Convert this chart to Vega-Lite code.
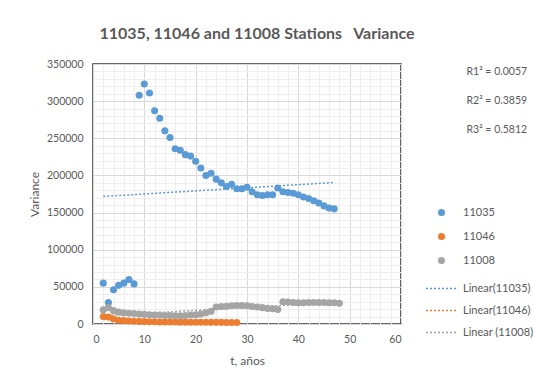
{
  "$schema": "https://vega.github.io/schema/vega-lite/v6.json",
  "width": 308,
  "height": 260,
  "autosize": {"type": "none"},
  "padding": {"left": 93, "top": 64, "right": 133, "bottom": 59},
  "background": "white",
  "title": {"text": "11035, 11046 and 11008 Stations \u00a0 Variance", "fontSize": 16, "fontWeight": "bold", "color": "#595959", "font": "Lato", "anchor": "middle", "dx": 10, "offset": 17},
  "datasets": {
    "meta": [
      {"s": "11035", "trend": "Linear(11035)", "r2": "R1² = 0.0057"},
      {"s": "11046", "trend": "Linear(11046)", "r2": "R2² = 0.3859"},
      {"s": "11008", "trend": "Linear (11008)", "r2": "R3² = 0.5812"}
    ],
    "obs": [
      {"s":"11035","t":2,"v":55000},{"s":"11035","t":3,"v":29000},{"s":"11035","t":4,"v":46000},{"s":"11035","t":5,"v":52000},{"s":"11035","t":6,"v":55000},{"s":"11035","t":7,"v":60000},{"s":"11035","t":8,"v":54000},{"s":"11035","t":9,"v":308000},{"s":"11035","t":10,"v":323000},{"s":"11035","t":11,"v":311000},{"s":"11035","t":12,"v":287000},{"s":"11035","t":13,"v":277000},{"s":"11035","t":14,"v":260000},{"s":"11035","t":15,"v":251000},{"s":"11035","t":16,"v":236000},{"s":"11035","t":17,"v":234000},{"s":"11035","t":18,"v":228000},{"s":"11035","t":19,"v":226000},{"s":"11035","t":20,"v":219000},{"s":"11035","t":21,"v":210000},{"s":"11035","t":22,"v":200000},{"s":"11035","t":23,"v":203000},{"s":"11035","t":24,"v":195000},{"s":"11035","t":25,"v":190000},{"s":"11035","t":26,"v":185000},{"s":"11035","t":27,"v":188000},{"s":"11035","t":28,"v":182000},{"s":"11035","t":29,"v":182000},{"s":"11035","t":30,"v":184000},{"s":"11035","t":31,"v":178000},{"s":"11035","t":32,"v":174000},{"s":"11035","t":33,"v":173000},{"s":"11035","t":34,"v":174000},{"s":"11035","t":35,"v":174000},{"s":"11035","t":36,"v":183000},{"s":"11035","t":37,"v":178000},{"s":"11035","t":38,"v":177000},{"s":"11035","t":39,"v":176000},{"s":"11035","t":40,"v":174000},{"s":"11035","t":41,"v":171000},{"s":"11035","t":42,"v":169000},{"s":"11035","t":43,"v":166000},{"s":"11035","t":44,"v":163000},{"s":"11035","t":45,"v":159000},{"s":"11035","t":46,"v":156000},{"s":"11035","t":47,"v":155000},
      {"s":"11046","t":2,"v":10000},{"s":"11046","t":3,"v":9500},{"s":"11046","t":4,"v":6700},{"s":"11046","t":5,"v":5000},{"s":"11046","t":6,"v":4500},{"s":"11046","t":7,"v":4000},{"s":"11046","t":8,"v":3800},{"s":"11046","t":9,"v":3500},{"s":"11046","t":10,"v":3200},{"s":"11046","t":11,"v":3000},{"s":"11046","t":12,"v":3000},{"s":"11046","t":13,"v":2800},{"s":"11046","t":14,"v":2700},{"s":"11046","t":15,"v":2700},{"s":"11046","t":16,"v":2600},{"s":"11046","t":17,"v":2500},{"s":"11046","t":18,"v":2500},{"s":"11046","t":19,"v":2400},{"s":"11046","t":20,"v":2400},{"s":"11046","t":21,"v":2300},{"s":"11046","t":22,"v":2300},{"s":"11046","t":23,"v":2200},{"s":"11046","t":24,"v":2200},{"s":"11046","t":25,"v":2200},{"s":"11046","t":26,"v":2100},{"s":"11046","t":27,"v":2100},{"s":"11046","t":28,"v":2000},
      {"s":"11008","t":2,"v":19000},{"s":"11008","t":3,"v":22000},{"s":"11008","t":4,"v":18000},{"s":"11008","t":5,"v":16000},{"s":"11008","t":6,"v":15000},{"s":"11008","t":7,"v":14500},{"s":"11008","t":8,"v":14000},{"s":"11008","t":9,"v":13500},{"s":"11008","t":10,"v":13000},{"s":"11008","t":11,"v":12500},{"s":"11008","t":12,"v":12000},{"s":"11008","t":13,"v":12000},{"s":"11008","t":14,"v":11500},{"s":"11008","t":15,"v":11500},{"s":"11008","t":16,"v":11000},{"s":"11008","t":17,"v":11000},{"s":"11008","t":18,"v":11500},{"s":"11008","t":19,"v":12000},{"s":"11008","t":20,"v":12500},{"s":"11008","t":21,"v":13500},{"s":"11008","t":22,"v":15000},{"s":"11008","t":23,"v":17000},{"s":"11008","t":24,"v":23000},{"s":"11008","t":25,"v":23500},{"s":"11008","t":26,"v":24000},{"s":"11008","t":27,"v":24500},{"s":"11008","t":28,"v":25000},{"s":"11008","t":29,"v":25000},{"s":"11008","t":30,"v":24500},{"s":"11008","t":31,"v":23500},{"s":"11008","t":32,"v":23000},{"s":"11008","t":33,"v":22000},{"s":"11008","t":34,"v":21000},{"s":"11008","t":35,"v":20500},{"s":"11008","t":36,"v":19500},{"s":"11008","t":37,"v":30000},{"s":"11008","t":38,"v":29500},{"s":"11008","t":39,"v":29000},{"s":"11008","t":40,"v":28500},{"s":"11008","t":41,"v":28500},{"s":"11008","t":42,"v":29000},{"s":"11008","t":43,"v":29000},{"s":"11008","t":44,"v":29000},{"s":"11008","t":45,"v":29000},{"s":"11008","t":46,"v":28500},{"s":"11008","t":47,"v":28500},{"s":"11008","t":48,"v":28000}
    ]
  },
  "data": {"name": "obs"},
  "transform": [
    {"lookup": "s", "from": {"data": {"name": "meta"}, "key": "s", "fields": ["trend", "r2"]}}
  ],
  "encoding": {
    "x": {
      "field": "t", "type": "quantitative",
      "scale": {"domain": [0, 60], "nice": false},
      "axis": {
        "title": "t, años",
        "values": [0,2,4,6,8,10,12,14,16,18,20,22,24,26,28,30,32,34,36,38,40,42,44,46,48,50,52,54,56,58,60],
        "labelExpr": "datum.value % 10 === 0 ? datum.label : ''",
        "gridColor": {"condition": {"test": "datum.value % 10 === 0", "value": "#D9D9D9"}, "value": "#EEEEEE"},
        "ticks": false, "domain": false, "labelPadding": 10, "titlePadding": 11
      }
    },
    "y": {
      "field": "v", "type": "quantitative",
      "scale": {"domain": [0, 350000], "nice": false},
      "axis": {
        "title": "Variance",
        "values": [0,10000,20000,30000,40000,50000,60000,70000,80000,90000,100000,110000,120000,130000,140000,150000,160000,170000,180000,190000,200000,210000,220000,230000,240000,250000,260000,270000,280000,290000,300000,310000,320000,330000,340000,350000],
        "format": "d",
        "labelExpr": "datum.value % 50000 === 0 ? datum.label : ''",
        "gridColor": {"condition": {"test": "datum.value % 50000 === 0", "value": "#D9D9D9"}, "value": "#EEEEEE"},
        "ticks": false, "domain": false, "labelPadding": 10, "titlePadding": 5
      }
    }
  },
  "layer": [
    {
      "transform": [{"regression": "v", "on": "t", "groupby": ["s", "trend"]}],
      "mark": {"type": "line", "strokeDash": [2, 2], "strokeWidth": 1.5},
      "encoding": {
        "stroke": {
          "field": "trend", "type": "nominal",
          "scale": {"domain": ["Linear(11035)", "Linear(11046)", "Linear (11008)"], "range": ["#5B9BD5", "#ED7D31", "#A5A5A5"]},
          "legend": {"orient": "none", "legendX": 332, "legendY": 208, "title": null, "symbolType": "stroke", "symbolSize": 961, "symbolDash": [2, 2], "symbolStrokeWidth": 1.5, "labelOffset": 5, "rowPadding": -7, "padding": 0}
        }
      }
    },
    {
      "mark": {"type": "point", "filled": true, "size": 50, "opacity": 1},
      "encoding": {
        "color": {
          "field": "s", "type": "nominal",
          "scale": {"domain": ["11035", "11046", "11008"], "range": ["#5B9BD5", "#ED7D31", "#A5A5A5"]},
          "legend": {"orient": "none", "legendX": 343, "legendY": 143, "title": null, "symbolType": "circle", "symbolSize": 50, "labelOffset": 16, "rowPadding": 12, "padding": 0}
        },
        "shape": {
          "field": "r2", "type": "nominal",
          "scale": {"domain": ["R1² = 0.0057", "R2² = 0.3859", "R3² = 0.5812"], "range": ["circle", "circle", "circle"]},
          "legend": {"orient": "none", "legendX": 363, "legendY": 3, "title": null, "symbolSize": 1, "symbolOpacity": 0, "symbolStrokeWidth": 0, "labelOffset": 0, "rowPadding": 18, "padding": 0, "labelFontSize": 10.5}
        }
      }
    }
  ],
  "config": {
    "font": "Lato",
    "view": {"stroke": "#333333", "strokeWidth": 1.5},
    "axis": {"labelFont": "Lato", "labelFontSize": 10.5, "labelColor": "#595959", "titleFont": "Lato", "titleFontSize": 12, "titleFontWeight": "normal", "titleColor": "#595959", "gridWidth": 1},
    "legend": {"labelFont": "Lato", "labelFontSize": 11, "labelColor": "#595959"}
  }
}
